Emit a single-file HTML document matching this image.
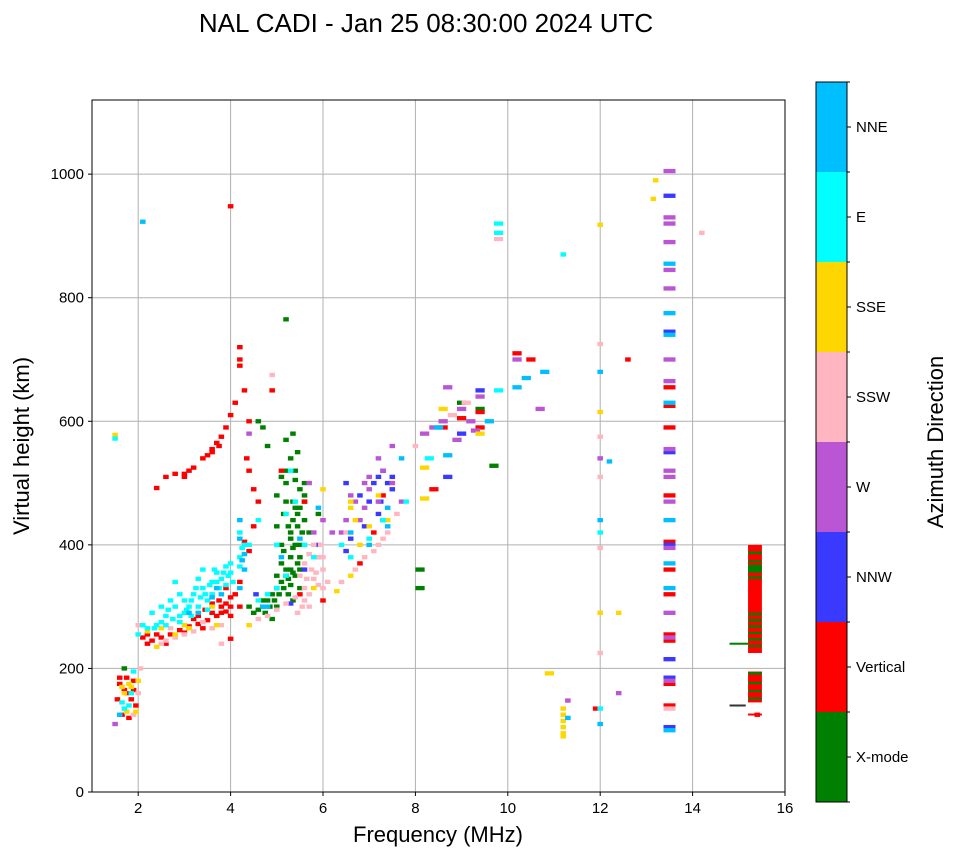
<!DOCTYPE html>
<html><head><meta charset="utf-8"><style>
body{margin:0;background:#fff;}
svg text{font-family:"Liberation Sans",sans-serif;}
</style></head><body>
<svg id="chart" width="958" height="857" viewBox="0 0 958 857" xmlns="http://www.w3.org/2000/svg">
<rect width="958" height="857" fill="#fff"/>
<text x="426" y="32" font-size="26" text-anchor="middle">NAL CADI - Jan 25 08:30:00 2024 UTC</text>
<g id="grid"></g>
<g id="marks"></g>
<rect x="92" y="100" width="693" height="692" fill="none" stroke="#000" stroke-width="1"/>
<g id="axes"></g>
<text x="438" y="842" font-size="22" text-anchor="middle">Frequency (MHz)</text>
<text transform="translate(29,446) rotate(-90)" font-size="22" text-anchor="middle">Virtual height (km)</text>
<g id="cbar"></g>
<text transform="translate(943,442) rotate(-90)" font-size="22" text-anchor="middle">Azimuth Direction</text>
</svg>
<script>
const xTicks=[2,4,6,8,10,12,14,16];
const yTicks=[0,200,400,600,800,1000];
const dirLabels=["X-mode","Vertical","NNW","W","SSW","SSE","E","NNE"];
const dirColors=["#008000","#ff0000","#3a3aff","#ba55d3","#ffb6c1","#ffd700","#00ffff","#00bfff"];
// echoes: [freq MHz, height km] per direction
const xmodePts=[[1.7,200],[4.5,290],[4.4,300],[4.7,300],[4.8,310],[4.9,320],[5.0,330],[5.1,340],[5.2,350],[5.3,360],[5.5,380],[5.4,400],[5.3,420],[5.0,430],[5.6,440],[5.7,420],[5.9,450],[5.2,470],[5.0,480],[5.2,500],[5.4,460],[5.6,470],[4.6,600],[4.7,590],[5.2,570],[4.8,560],[5.2,765],[5.1,400],[5.3,380],[5.15,450],[5.4,350],[5.5,330],[5.25,320],[5.0,300],[5.3,540],[5.4,505],[5.5,490],[4.9,280],[5.3,410],[5.5,400],[5.5,360],[8.1,360],[8.1,330],[9.0,630],[9.4,620],[9.7,528],[5.6,480],[5.45,430],[4.6,295],[4.7,310],[4.85,300],[4.95,310],[5.05,320],[5.15,330],[5.25,345],[5.35,355],[5.45,370],[5.2,360],[5.1,370],[5.0,350],[5.3,335],[5.35,395],[5.25,430],[5.35,440],[5.45,450],[5.55,420],[5.35,470],[5.2,520],[5.1,510],[5.4,520],[5.45,550],[5.35,580],[5.6,500],[5.5,460],[5.15,390],[5.35,310],[4.75,290]];
const verticalPts=[[1.55,150],[1.6,175],[1.65,125],[1.75,185],[1.8,120],[1.9,180],[1.85,150],[1.7,165],[1.95,140],[1.6,185],[1.75,160],[1.9,165],[2.1,250],[2.2,240],[2.3,245],[2.5,250],[2.7,255],[2.9,262],[3.1,268],[3.3,272],[3.5,278],[3.7,285],[3.9,292],[4.0,300],[3.8,300],[3.6,290],[4.0,285],[3.4,265],[2.4,255],[2.2,255],[2.6,240],[3.0,258],[3.2,280],[3.6,305],[3.75,310],[3.9,305],[4.0,315],[3.8,290],[3.45,295],[3.3,285],[2.4,492],[2.6,510],[2.8,515],[3.0,510],[3.1,520],[3.2,525],[3.4,540],[3.5,545],[3.6,550],[3.7,565],[3.8,575],[3.9,590],[4.0,610],[4.1,630],[4.2,700],[4.2,690],[4.2,720],[4.0,248],[4.0,948],[4.4,520],[4.5,490],[4.6,470],[4.4,600],[4.9,650],[5.1,520],[5.6,470],[4.5,430],[4.3,650],[5.5,320],[6.0,310],[4.1,320],[3.9,330],[4.2,340],[4.4,390],[6.8,370],[7.3,480],[7.1,420],[8.6,590],[9.0,605],[9.4,615],[9.4,590],[8.4,490],[10.2,710],[10.5,700],[12.6,700],[11.9,135],[13.5,655],[13.5,625],[13.5,590],[13.5,480],[13.5,405],[13.5,360],[13.5,320],[13.5,255],[13.5,245],[13.5,175],[13.5,140],[15.4,125],[4.3,405],[4.35,540],[4.2,300],[3.75,560],[3.0,515],[3.6,555]];
const nnwPts=[[5.6,360],[5.9,400],[6.8,480],[7.1,500],[7.2,450],[7.5,510],[6.5,500],[7.25,470],[8.7,510],[9.0,580],[9.4,650],[13.5,965],[13.5,745],[13.5,550],[13.5,400],[13.5,215],[13.5,185],[13.5,105],[4.55,320],[5.3,305],[6.5,390],[6.9,430],[7.3,520],[7.4,500],[7.5,490],[7.3,440],[6.6,410],[7.0,470],[7.2,510]];
const wPts=[[1.5,110],[5.8,420],[6.0,440],[4.4,580],[6.5,440],[6.7,470],[7.0,490],[7.3,520],[7.5,560],[6.9,500],[7.2,540],[6.4,420],[8.2,580],[8.6,600],[9.0,620],[9.4,640],[8.7,655],[8.4,590],[9.2,600],[10.2,700],[10.7,620],[12.0,540],[12.4,160],[11.3,148],[13.5,1005],[13.5,930],[13.5,920],[13.5,890],[13.5,845],[13.5,815],[13.5,700],[13.5,665],[13.5,555],[13.5,520],[13.5,510],[13.5,470],[13.5,395],[13.5,290],[13.5,250],[13.5,180],[5.9,380],[5.7,500],[7.7,470],[6.6,480],[6.9,460],[7.2,470],[7.0,510],[6.8,440],[6.2,420],[7.5,500],[8.9,570],[9.3,585]];
const sswPts=[[2.0,160],[2.05,200],[1.9,125],[2.6,245],[3.2,260],[3.6,265],[2.0,270],[2.8,250],[3.0,255],[2.5,240],[2.7,265],[3.4,275],[3.8,270],[4.8,285],[5.0,295],[5.2,305],[5.4,315],[5.6,330],[5.8,345],[6.0,360],[5.5,350],[5.9,380],[5.7,300],[4.9,675],[5.45,290],[5.8,400],[6.0,330],[4.6,280],[5.6,310],[5.7,320],[5.9,335],[5.75,360],[5.65,345],[5.55,300],[5.85,355],[6.0,380],[5.95,400],[5.7,385],[5.6,370],[6.4,340],[6.7,360],[6.9,380],[7.2,400],[7.4,420],[7.6,450],[6.5,420],[7.1,390],[7.3,410],[8.0,560],[9.1,630],[8.8,610],[9.8,895],[14.2,905],[12.0,725],[12.0,575],[12.0,510],[12.0,395],[12.0,225],[13.5,135],[6.1,340],[3.8,240]];
const ssePts=[[1.5,578],[1.7,160],[1.85,170],[2.0,180],[1.95,130],[1.75,130],[1.8,175],[1.65,170],[2.2,260],[2.5,265],[2.8,255],[3.0,270],[2.4,235],[3.6,300],[3.7,270],[6.0,490],[5.8,330],[6.3,325],[6.6,350],[6.8,400],[7.0,430],[6.6,460],[7.2,480],[6.7,440],[6.6,470],[7.4,440],[8.2,525],[8.2,475],[9.4,580],[8.6,620],[10.9,192],[11.2,95],[11.2,105],[11.2,115],[11.2,125],[11.2,135],[11.2,90],[12.0,918],[12.0,615],[12.0,290],[12.4,290],[13.2,990],[13.15,960],[4.4,270],[3.1,265]];
const ePts=[[1.8,140],[1.9,195],[1.65,145],[1.5,572],[1.7,135],[1.85,160],[2.0,255],[2.2,265],[2.4,270],[2.6,285],[2.8,300],[3.0,310],[3.2,320],[3.4,330],[3.6,340],[3.8,345],[4.0,355],[2.5,300],[2.9,320],[3.3,345],[3.7,355],[2.3,290],[2.7,310],[3.1,300],[3.5,310],[3.9,335],[4.0,370],[2.1,270],[3.3,300],[3.0,290],[2.6,270],[3.6,320],[2.35,265],[2.5,275],[2.75,280],[2.9,285],[3.05,295],[3.15,310],[3.25,330],[3.45,320],[3.55,335],[3.7,340],[3.85,355],[3.95,350],[4.05,340],[3.35,315],[3.15,285],[2.9,275],[2.65,295],[3.5,295],[3.75,330],[3.65,360],[4.2,380],[4.2,420],[4.4,400],[4.6,310],[4.8,320],[5.0,330],[5.2,350],[5.2,450],[5.4,470],[5.6,400],[5.8,380],[5.3,520],[4.3,400],[4.6,440],[5.0,400],[4.25,395],[4.2,365],[6.6,380],[7.0,410],[7.3,440],[6.4,400],[7.8,470],[8.3,540],[9.8,650],[9.8,920],[9.8,905],[11.2,870],[12.0,420],[12.0,135],[2.8,340],[3.4,360],[3.9,365]];
const nnePts=[[1.6,125],[4.3,360],[4.7,300],[5.5,410],[5.9,460],[4.2,440],[5.1,380],[4.8,300],[4.25,375],[4.2,410],[4.3,385],[3.6,315],[3.8,320],[3.1,290],[6.6,420],[7.4,460],[7.7,540],[8.5,590],[8.7,545],[9.6,600],[10.4,670],[10.2,655],[10.8,680],[2.1,923],[12.0,680],[12.0,440],[12.0,110],[12.2,535],[11.3,120],[13.5,855],[13.5,775],[13.5,740],[13.5,630],[13.5,440],[13.5,370],[13.5,330],[13.5,100],[3.3,290],[3.7,330],[4.2,330],[7.4,430],[7.0,400]];
// vertical column near 15.3 MHz: [low km, high km, dir]
const columnSegs=[[125,127,1],[145,195,1],[225,400,1],[150,153,0],[162,165,0],[175,178,0],[190,194,0],[235,238,0],[245,249,0],[256,259,0],[266,270,0],[276,280,0],[286,290,0],[345,349,0],[355,368,0],[372,375,0],[385,389,0]];

const X0=92,X1=785,Y0=792,Y1=100,FMIN=1,FMAX=16,HMIN=0,HMAX=1120;
const xs=f=>X0+(f-FMIN)/(FMAX-FMIN)*(X1-X0);
const ys=h=>Y0-(h-HMIN)/(HMAX-HMIN)*(Y0-Y1);
const NS="http://www.w3.org/2000/svg";
function mk(tag,parent){const e=document.createElementNS(NS,tag);parent.appendChild(e);return e;}
const grid=document.getElementById('grid'),axes=document.getElementById('axes'),marks=document.getElementById('marks'),cbar=document.getElementById('cbar');
xTicks.forEach(t=>{const x=xs(t);
 if(t<FMAX){const l=mk('line',grid);l.setAttribute('x1',x);l.setAttribute('x2',x);l.setAttribute('y1',Y1);l.setAttribute('y2',Y0);l.setAttribute('stroke','#b0b0b0');
 
 }
 const k=mk('line',axes);k.setAttribute('x1',x);k.setAttribute('x2',x);k.setAttribute('y1',Y0);k.setAttribute('y2',Y0+4);k.setAttribute('stroke','#000');
 
 
 const tx=mk('text',axes);tx.setAttribute('x',x);tx.setAttribute('y',Y0+21);tx.setAttribute('font-size','15');tx.setAttribute('text-anchor','middle');tx.textContent=t;
 
 });
yTicks.forEach(t=>{const y=ys(t);
 if(t>0){const l=mk('line',grid);l.setAttribute('x1',X0);l.setAttribute('x2',X1);l.setAttribute('y1',y);l.setAttribute('y2',y);l.setAttribute('stroke','#b0b0b0');
 
 }
 const k=mk('line',axes);k.setAttribute('x1',X0-4);k.setAttribute('x2',X0);k.setAttribute('y1',y);k.setAttribute('y2',y);k.setAttribute('stroke','#000');
 
 
 const tx=mk('text',axes);tx.setAttribute('x',X0-8);tx.setAttribute('y',y+5);tx.setAttribute('font-size','15');tx.setAttribute('text-anchor','end');tx.textContent=t;
 
 });
const groups=[xmodePts,verticalPts,nnwPts,wPts,sswPts,ssePts,ePts,nnePts];
const H=7;
groups.forEach((pts,d)=>pts.forEach(p=>{const r=mk('rect',marks);
 const W=(p[0]===13.5)?0.26:(p[0]>=8.1&&p[0]<=10.9?0.2:0.12);
 r.setAttribute('x',xs(p[0]-W/2));r.setAttribute('y',ys(p[1]+H/2));r.setAttribute('width',xs(p[0]+W/2)-xs(p[0]-W/2));r.setAttribute('height',ys(p[1]-H/2)-ys(p[1]+H/2));r.setAttribute('fill',dirColors[d]);
 
 }));
columnSegs.forEach(s=>{const r=mk('rect',marks);
 r.setAttribute('x',xs(15.2));r.setAttribute('y',ys(s[1]));r.setAttribute('width',xs(15.5)-xs(15.2));r.setAttribute('height',Math.max(2,ys(s[0])-ys(s[1])));r.setAttribute('fill',dirColors[s[2]]);
 
 });
[[14.8,15.2,240,0],[14.8,15.15,140,-1]].forEach(s=>{const r=mk('rect',marks);
 r.setAttribute('x',xs(s[0]));r.setAttribute('y',ys(s[2])-1);r.setAttribute('width',xs(s[1])-xs(s[0]));r.setAttribute('height',2);r.setAttribute('fill',s[3]<0?'#333':dirColors[s[3]]);
 
 });
// colorbar
const CB_X=816,CB_W=31,CB_TOP=82,CB_BOT=802,segH=(CB_BOT-CB_TOP)/dirLabels.length;
dirLabels.forEach((lab,i)=>{const y=CB_BOT-(i+1)*segH;
 const r=mk('rect',cbar);r.setAttribute('x',CB_X);r.setAttribute('y',y);r.setAttribute('width',CB_W);r.setAttribute('height',segH);r.setAttribute('fill',dirColors[i]);
 
 
 const t=mk('text',cbar);t.setAttribute('x',CB_X+CB_W+9);t.setAttribute('y',y+segH/2+5);t.setAttribute('font-size','15');t.textContent=lab;
 
 
 const k=mk('line',cbar);k.setAttribute('x1',CB_X+CB_W);k.setAttribute('x2',CB_X+CB_W+4);k.setAttribute('y1',y+segH/2);k.setAttribute('y2',y+segH/2);k.setAttribute('stroke','#000');
 
 });
for(let i=0;i<=dirLabels.length;i++){const y=CB_BOT-i*segH;const k=mk('line',cbar);k.setAttribute('x1',CB_X+CB_W);k.setAttribute('x2',CB_X+CB_W+3);k.setAttribute('y1',y);k.setAttribute('y2',y);k.setAttribute('stroke','#000');
 
 }
const fr=mk('rect',cbar);fr.setAttribute('x',CB_X);fr.setAttribute('y',CB_TOP);fr.setAttribute('width',CB_W);fr.setAttribute('height',CB_BOT-CB_TOP);fr.setAttribute('fill','none');fr.setAttribute('stroke','#000');


</script>
</body></html>
